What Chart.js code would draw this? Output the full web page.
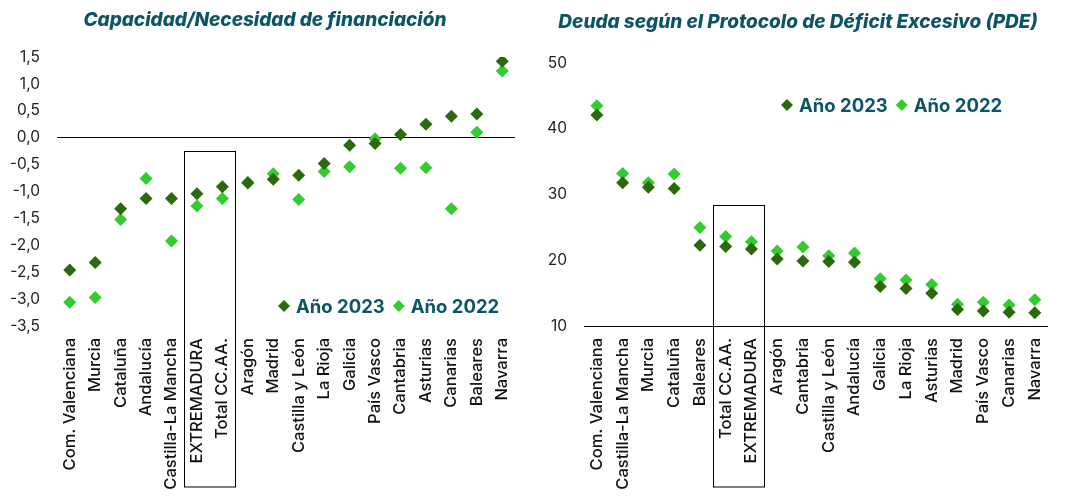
<!DOCTYPE html>
<html>
<head>
<meta charset="utf-8">
<script src="https://cdn.jsdelivr.net/npm/chart.js@4.4.1/dist/chart.umd.min.js"></script>
<style>
  body { margin: 0; background: #fff; width: 1067px; height: 496px; overflow: hidden; position: relative; }
  canvas { position: absolute; top: 0; }
  #c1 { left: 0; }
  #c2 { left: 535px; }
</style>
</head>
<body>
<canvas id="c1" width="535" height="496"></canvas>
<canvas id="c2" width="532" height="496"></canvas>
<script>
// Capacidad/Necesidad de financiación (% PIB)
const regionsBalance = ['Com. Valenciana', 'Murcia', 'Cataluña', 'Andalucía', 'Castilla-La Mancha',
  'EXTREMADURA', 'Total CC.AA.', 'Aragón', 'Madrid', 'Castilla y León', 'La Rioja', 'Galicia',
  'País Vasco', 'Cantabria', 'Asturias', 'Canarias', 'Baleares', 'Navarra'];
const balance2023 = [-2.46, -2.32, -1.32, -1.13, -1.13, -1.04, -0.91, -0.84, -0.77, -0.70, -0.48, -0.14,
  -0.11, 0.06, 0.25, 0.40, 0.44, 1.42];
const balance2022 = [-3.06, -2.97, -1.52, -0.76, -1.92, -1.27, -1.13, -0.83, -0.67, -1.15, -0.63, -0.54,
  -0.02, -0.57, -0.56, -1.32, 0.10, 1.24];

// Deuda PDE (% PIB)
const regionsDebt = ['Com. Valenciana', 'Castilla-La Mancha', 'Murcia', 'Cataluña', 'Baleares',
  'Total CC.AA.', 'EXTREMADURA', 'Aragón', 'Cantabria', 'Castilla y León', 'Andalucía', 'Galicia',
  'La Rioja', 'Asturias', 'Madrid', 'País Vasco', 'Canarias', 'Navarra'];
const debt2023 = [42.1, 31.8, 31.1, 30.9, 22.3, 22.1, 21.7, 20.2, 19.9, 19.8, 19.7, 16.0,
  15.7, 15.0, 12.5, 12.3, 12.1, 12.0];
const debt2022 = [43.5, 33.2, 31.8, 33.1, 25.0, 23.6, 22.8, 21.4, 22.0, 20.7, 21.1, 17.2,
  17.0, 16.3, 13.3, 13.6, 13.2, 14.0];

const seriesNames = ['Año 2023', 'Año 2022'];
const dark = '#2b6a0c';
const light = '#33cc2e';
const teal = '#0d5565';
const fontFamily = 'Inter, "DejaVu Sans", sans-serif';

const extras = {
  id: 'extras',
  afterDraw(chart, args, o) {
    const ctx = chart.ctx;
    const x = chart.scales.x, y = chart.scales.y;
    ctx.save();

    ctx.font = 'italic 800 19px ' + fontFamily;
    ctx.fillStyle = teal;
    ctx.textAlign = 'center';
    ctx.textBaseline = 'middle';
    ctx.fillText(o.title, o.titleX, o.titleY);

    // recuadro EXTREMADURA / Total
    const l = Math.round(x.getPixelForValue(o.boxFrom - 0.5)) + 0.5;
    const r = Math.round(x.getPixelForValue(o.boxTo + 0.5)) + 0.5;
    const t = Math.round(y.getPixelForValue(o.boxTop)) + 0.5;
    ctx.strokeStyle = '#000';
    ctx.lineWidth = 1;
    ctx.strokeRect(l, t, r - l, o.boxBottom - t);

    // leyenda
    ctx.font = 'bold 18.5px ' + fontFamily;
    ctx.textAlign = 'left';
    let cx = o.legendX;
    chart.data.datasets.forEach(ds => {
      ctx.fillStyle = ds.backgroundColor;
      ctx.beginPath();
      ctx.moveTo(cx, o.legendY - 6);
      ctx.lineTo(cx + 6, o.legendY);
      ctx.lineTo(cx, o.legendY + 6);
      ctx.lineTo(cx - 6, o.legendY);
      ctx.closePath();
      ctx.fill();
      ctx.fillStyle = teal;
      ctx.fillText(ds.label, cx + 12, o.legendY + 1);
      cx += 12 + ctx.measureText(ds.label).width + 14;
    });
    ctx.restore();
  }
};

function makeDataset(label, data, color) {
  return {
    label,
    data,
    backgroundColor: color,
    borderColor: color,
    showLine: false,
    pointStyle: 'rectRot',
    pointRadius: 6.5,
    pointHoverRadius: 6.5,
    pointBorderWidth: 0
  };
}

const catFont = { family: fontFamily, size: 16.5, weight: 500 };
const valFont = { family: fontFamily, size: 15.5 };

new Chart(document.getElementById('c1'), {
  type: 'line',
  data: {
    labels: regionsBalance,
    datasets: [
      makeDataset(seriesNames[0], balance2023, dark),
      makeDataset(seriesNames[1], balance2022, light)
    ]
  },
  options: {
    responsive: false,
    animation: false,
    layout: { padding: { top: 57, right: 20, bottom: 0, left: 0 } },
    plugins: {
      legend: { display: false },
      tooltip: { enabled: false },
      extras: {
        title: 'Capacidad/Necesidad de financiación',
        titleX: 265, titleY: 20,
        boxFrom: 5, boxTo: 6, boxTop: -0.25, boxBottom: 487,
        legendX: 284, legendY: 306
      }
    },
    scales: {
      x: {
        offset: true,
        grid: { display: false, drawTicks: false },
        border: { display: false },
        ticks: { minRotation: 90, maxRotation: 90, autoSkip: false, padding: 12, color: '#111',
          font: catFont },
        afterFit: s => { s.height = 170; }
      },
      y: {
        min: -3.5, max: 1.5,
        grid: {
          drawTicks: false,
          color: c => Math.abs(c.tick.value) < 1e-9 ? '#000' : 'rgba(0,0,0,0)',
          lineWidth: 1
        },
        border: { display: false },
        ticks: {
          stepSize: 0.5, padding: 17, color: '#222',
          font: valFont,
          callback: v => v.toFixed(1).replace('.', ',')
        },
        afterFit: s => { s.width = 57; }
      }
    }
  },
  plugins: [extras]
});

new Chart(document.getElementById('c2'), {
  type: 'line',
  data: {
    labels: regionsDebt,
    datasets: [
      makeDataset(seriesNames[0], debt2023, dark),
      makeDataset(seriesNames[1], debt2022, light)
    ]
  },
  options: {
    responsive: false,
    animation: false,
    layout: { padding: { top: 63, right: 14, bottom: 0, left: 0 } },
    plugins: {
      legend: { display: false },
      tooltip: { enabled: false },
      extras: {
        title: 'Deuda según el Protocolo de Déficit Excesivo (PDE)',
        titleX: 263, titleY: 22,
        boxFrom: 5, boxTo: 6, boxTop: 28.4, boxBottom: 487,
        legendX: 252, legendY: 105
      }
    },
    scales: {
      x: {
        offset: true,
        grid: { display: false, drawTicks: false },
        border: { display: true, color: '#000', width: 1 },
        ticks: { minRotation: 90, maxRotation: 90, autoSkip: false, padding: 12, color: '#111',
          font: catFont },
        afterFit: s => { s.height = 170; }
      },
      y: {
        min: 10, max: 50,
        grid: { display: false, drawTicks: false },
        border: { display: false },
        ticks: { stepSize: 10, padding: 17, color: '#222', font: valFont },
        afterFit: s => { s.width = 49; }
      }
    }
  },
  plugins: [extras]
});
</script>
</body>
</html>
